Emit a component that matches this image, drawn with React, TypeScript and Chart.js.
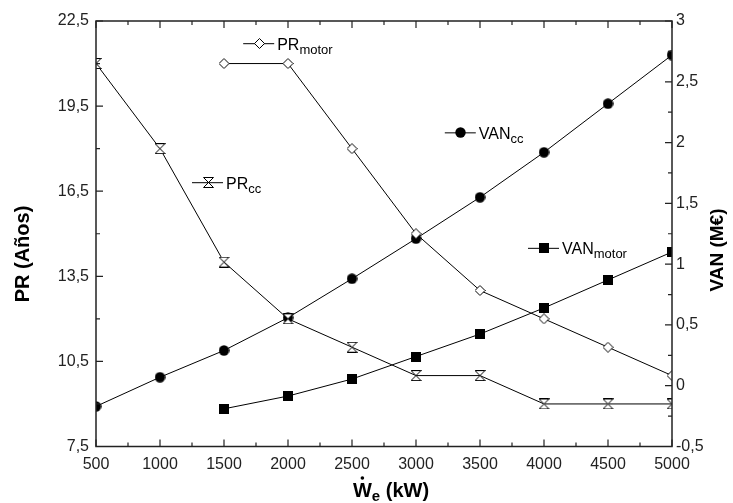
import React, { useEffect, useRef } from "react";
import { Chart, registerables } from "chart.js";

Chart.register(...registerables);

// ---- data ----
const xValues = [500, 1000, 1500, 2000, 2500, 3000, 3500, 4000, 4500, 5000];
const prCC = [21, 18, 14, 12, 11, 10, 10, 9, 9, 9];
const prMotor = [null, null, 21, 21, 18, 15, 13, 12, 11, 10];
const vanCC = [-0.17, 0.07, 0.29, 0.56, 0.88, 1.21, 1.55, 1.92, 2.32, 2.72];
const vanMotor = [null, null, -0.19, -0.085, 0.055, 0.24, 0.425, 0.64, 0.87, 1.1];

const xTicks = [500, 1000, 1500, 2000, 2500, 3000, 3500, 4000, 4500, 5000];
const prTicks = [7.5, 10.5, 13.5, 16.5, 19.5, 22.5];
const vanTicks = [-0.5, 0, 0.5, 1, 1.5, 2, 2.5, 3];

// in-plot series labels (anchored in data values)
const labelMain = ["PR", "PR", "VAN", "VAN"];
const labelSub = ["cc", "motor", "cc", "motor"];
const labelX = [1375, 1775, 3350, 4000];
const labelY = [16.8, 21.7, 2.08, 1.13];
const labelAxis = ["y", "y", "y1", "y1"];
const labelMarker = ["hourglass", "diamond", "circle", "square"];

const FONT = "'Liberation Sans', Arial, sans-serif";
const TICK_COLOR = "#222";

function fmt(v: number) {
  return String(v).replace(".", ",");
}

function makeMarker(kind: string): HTMLCanvasElement {
  const c = document.createElement("canvas");
  const s = kind === "square" ? 10 : 11;
  c.width = s;
  c.height = s;
  const g = c.getContext("2d")!;
  g.lineWidth = 1;
  g.strokeStyle = "#000";
  if (kind === "circle") {
    g.fillStyle = "#000";
    g.beginPath();
    g.arc(5.5, 5.5, 5.2, 0, Math.PI * 2);
    g.fill();
  } else if (kind === "square") {
    g.fillStyle = "#000";
    g.fillRect(0, 0, 10, 10);
  } else if (kind === "diamond") {
    g.fillStyle = "#fff";
    g.beginPath();
    g.moveTo(5.5, 0.5);
    g.lineTo(10.5, 5.5);
    g.lineTo(5.5, 10.5);
    g.lineTo(0.5, 5.5);
    g.closePath();
    g.fill();
    g.stroke();
  } else {
    g.fillStyle = "#fff";
    g.beginPath();
    g.moveTo(0.5, 0.5);
    g.lineTo(10.5, 0.5);
    g.lineTo(0.5, 10.5);
    g.lineTo(10.5, 10.5);
    g.closePath();
    g.fill();
    g.stroke();
  }
  return c;
}

function toPoints(ys: (number | null)[]) {
  const out: { x: number; y: number }[] = [];
  xValues.forEach((x, i) => {
    const y = ys[i];
    if (y !== null && y !== undefined) out.push({ x, y });
  });
  return out;
}

export default function App() {
  const ref = useRef<HTMLCanvasElement | null>(null);

  useEffect(() => {
    if (!ref.current) return;
    const markers: Record<string, HTMLCanvasElement> = {
      hourglass: makeMarker("hourglass"),
      diamond: makeMarker("diamond"),
      circle: makeMarker("circle"),
      square: makeMarker("square"),
    };

    const decor = {
      id: "decor",
      afterDatasetsDraw(chart: any) {
        const ctx = chart.ctx as CanvasRenderingContext2D;
        const { left, right, top, bottom } = chart.chartArea;
        const sx = chart.scales.x;
        const sy = chart.scales.y;
        const sy1 = chart.scales.y1;
        ctx.save();
        // frame
        ctx.strokeStyle = "#222";
        ctx.lineWidth = 1.5;
        ctx.strokeRect(left, top, right - left, bottom - top);
        ctx.lineWidth = 1.2;
        const major = 7;
        const minor = 4;
        ctx.beginPath();
        // x ticks
        xTicks.forEach((v, i) => {
          const px = sx.getPixelForValue(v);
          ctx.moveTo(px, bottom);
          ctx.lineTo(px, bottom - major);
          ctx.moveTo(px, top);
          ctx.lineTo(px, top + major);
          if (i < xTicks.length - 1) {
            const m = sx.getPixelForValue((v + xTicks[i + 1]) / 2);
            ctx.moveTo(m, bottom);
            ctx.lineTo(m, bottom - minor);
            ctx.moveTo(m, top);
            ctx.lineTo(m, top + minor);
          }
        });
        prTicks.forEach((v, i) => {
          const py = sy.getPixelForValue(v);
          ctx.moveTo(left, py);
          ctx.lineTo(left + major, py);
          if (i < prTicks.length - 1) {
            const m = sy.getPixelForValue((v + prTicks[i + 1]) / 2);
            ctx.moveTo(left, m);
            ctx.lineTo(left + minor, m);
          }
        });
        vanTicks.forEach((v, i) => {
          const py = sy1.getPixelForValue(v);
          ctx.moveTo(right, py);
          ctx.lineTo(right - major, py);
          if (i < vanTicks.length - 1) {
            const m = sy1.getPixelForValue((v + vanTicks[i + 1]) / 2);
            ctx.moveTo(right, m);
            ctx.lineTo(right - minor, m);
          }
        });
        ctx.stroke();

        // in-plot labels
        labelMain.forEach((main, i) => {
          const px = sx.getPixelForValue(labelX[i]);
          const py = chart.scales[labelAxis[i]].getPixelForValue(labelY[i]);
          ctx.strokeStyle = "#000";
          ctx.lineWidth = 1;
          ctx.beginPath();
          ctx.moveTo(px - 16, py);
          ctx.lineTo(px + 15, py);
          ctx.stroke();
          const img = markers[labelMarker[i]];
          ctx.drawImage(img, Math.round(px - img.width / 2), Math.round(py - img.height / 2));
          ctx.fillStyle = "#000";
          ctx.textBaseline = "alphabetic";
          ctx.textAlign = "left";
          ctx.font = `16px ${FONT}`;
          const tx = px + 18;
          ctx.fillText(main, tx, py + 6);
          const w = ctx.measureText(main).width;
          ctx.font = `13px ${FONT}`;
          ctx.fillText(labelSub[i], tx + w, py + 10);
        });

        // axis titles
        ctx.fillStyle = "#000";
        ctx.font = `bold 20px ${FONT}`;
        ctx.textAlign = "center";
        ctx.textBaseline = "middle";
        ctx.save();
        ctx.translate(23, 254);
        ctx.rotate(-Math.PI / 2);
        ctx.fillText("PR (Años)", 0, 0);
        ctx.restore();
        ctx.save();
        ctx.translate(718, 250);
        ctx.rotate(-Math.PI / 2);
        ctx.font = `bold 19px ${FONT}`;
        ctx.fillText("VAN (M€)", 0, 0);
        ctx.restore();

        // x title: W-dot, subscript e, (kW)
        ctx.textAlign = "left";
        ctx.textBaseline = "alphabetic";
        ctx.font = `bold 20px ${FONT}`;
        const wW = ctx.measureText("W").width;
        const wRest = ctx.measureText(" (kW)").width;
        ctx.font = `bold 15px ${FONT}`;
        const wE = ctx.measureText("e").width;
        const total = wW + wE + wRest;
        const cx = 391;
        const base = 497;
        let x0 = cx - total / 2;
        ctx.font = `bold 20px ${FONT}`;
        ctx.fillText("W", x0, base);
        ctx.beginPath();
        ctx.arc(x0 + wW / 2, base - 19, 1.8, 0, Math.PI * 2);
        ctx.fill();
        ctx.font = `bold 15px ${FONT}`;
        ctx.fillText("e", x0 + wW, base + 4);
        ctx.font = `bold 20px ${FONT}`;
        ctx.fillText(" (kW)", x0 + wW + wE, base);
        ctx.restore();
      },
    };

    const tickFont = { family: FONT, size: 16 };

    const chart = new Chart(ref.current, {
      type: "line",
      data: {
        datasets: [
          {
            label: "PRcc",
            data: toPoints(prCC),
            yAxisID: "y",
            borderColor: "#000",
            borderWidth: 1,
            pointStyle: markers.hourglass,
            pointRadius: 5,
          },
          {
            label: "PRmotor",
            data: toPoints(prMotor),
            yAxisID: "y",
            borderColor: "#000",
            borderWidth: 1,
            pointStyle: markers.diamond,
            pointRadius: 5,
          },
          {
            label: "VANcc",
            data: toPoints(vanCC),
            yAxisID: "y1",
            borderColor: "#000",
            borderWidth: 1,
            pointStyle: markers.circle,
            pointRadius: 5,
          },
          {
            label: "VANmotor",
            data: toPoints(vanMotor),
            yAxisID: "y1",
            borderColor: "#000",
            borderWidth: 1,
            pointStyle: markers.square,
            pointRadius: 5,
          },
        ] as any,
      },
      options: {
        animation: false,
        responsive: false,
        maintainAspectRatio: false,
        layout: { padding: { top: 21, left: 0, right: 0, bottom: 0 } },
        plugins: {
          legend: { display: false },
          tooltip: { enabled: false },
        },
        elements: { line: { tension: 0 } },
        scales: {
          x: {
            type: "linear",
            min: 500,
            max: 5000,
            afterBuildTicks: (s: any) => {
              s.ticks = xTicks.map((v) => ({ value: v }));
            },
            afterFit: (s: any) => {
              s.height = 56.5;
            },
            grid: { display: false, drawTicks: false },
            border: { display: false },
            ticks: {
              autoSkip: false,
              maxRotation: 0,
              padding: 8,
              color: TICK_COLOR,
              font: tickFont,
              callback: (v: any) => String(v),
            },
          },
          y: {
            type: "linear",
            position: "left",
            min: 7.5,
            max: 22.5,
            afterBuildTicks: (s: any) => {
              s.ticks = prTicks.map((v) => ({ value: v }));
            },
            afterFit: (s: any) => {
              s.width = 96;
            },
            grid: { display: false, drawTicks: false },
            border: { display: false },
            ticks: {
              padding: 7,
              color: TICK_COLOR,
              font: tickFont,
              callback: (v: any) => fmt(v),
            },
          },
          y1: {
            type: "linear",
            position: "right",
            min: -0.5,
            max: 3,
            afterBuildTicks: (s: any) => {
              s.ticks = vanTicks.map((v) => ({ value: v }));
            },
            afterFit: (s: any) => {
              s.width = 61;
            },
            grid: { display: false, drawTicks: false },
            border: { display: false },
            ticks: {
              padding: 4,
              color: TICK_COLOR,
              font: tickFont,
              callback: (v: any) => fmt(v),
            },
          },
        },
      } as any,
      plugins: [decor],
    });
    return () => chart.destroy();
  }, []);

  return (
    <div style={{ position: "absolute", left: 0, top: 0, width: 733, height: 503, background: "#fff" }}>
      <canvas ref={ref} width={733} height={503} style={{ display: "block", width: 733, height: 503 }} />
    </div>
  );
}
